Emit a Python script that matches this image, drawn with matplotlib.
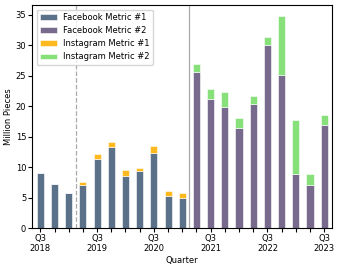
import numpy as np
import matplotlib.pyplot as plt

quarters = ["Q3\n2018", "", "", "", "Q3\n2019", "", "", "", "Q3\n2020", "", "", "",
            "Q3\n2021", "", "", "", "Q3\n2022", "", "", "", "Q3\n2023"]

fb1 = [9.0, 7.2, 5.8, 7.0, 11.4, 13.3, 8.5, 9.4, 12.4, 5.3, 5.0,
       0, 0, 0, 0, 0, 0, 0, 0, 0, 0]
ig1 = [0, 0, 0, 0.5, 0.8, 0.8, 1.1, 0.5, 1.0, 0.8, 0.8,
       0, 0, 0, 0, 0, 0, 0, 0, 0, 0]
fb2 = [0, 0, 0, 0, 0, 0, 0, 0, 0, 0, 0,
       25.6, 21.2, 19.8, 16.5, 20.4, 30.1, 25.1, 8.9, 7.1, 16.9]
ig2 = [0, 0, 0, 0, 0, 0, 0, 0, 0, 0, 0,
       1.4, 1.6, 2.6, 1.6, 1.3, 1.3, 9.7, 8.8, 1.8, 1.6]

c_fb1 = "#5b7189"
c_fb2 = "#786a8c"
c_ig1 = "#fdb91e"
c_ig2 = "#87e07a"

plt.rcParams['font.size'] = 6

fig, ax = plt.subplots(figsize=(3.41, 2.69), dpi=100)
x = np.arange(len(quarters))
w = 0.5
fb1 = np.array(fb1)
fb2 = np.array(fb2)

ax.bar(x, fb1, w, color=c_fb1, edgecolor="white", linewidth=0.4, label="Facebook Metric #1")
ax.bar(x, fb2, w, color=c_fb2, edgecolor="white", linewidth=0.4, label="Facebook Metric #2")
ax.bar(x, ig1, w, bottom=fb1, color=c_ig1, edgecolor="white", linewidth=0.4, label="Instagram Metric #1")
ax.bar(x, ig2, w, bottom=fb2, color=c_ig2, edgecolor="white", linewidth=0.4, label="Instagram Metric #2")

ax.axvline(2.5, color="#aaaaaa", linestyle="--", linewidth=0.9)
ax.axvline(10.5, color="#aaaaaa", linestyle="-", linewidth=0.9)

ax.set_xticks(x)
ax.set_xticklabels(quarters, linespacing=1.15)
ax.set_xlim(-0.56, 20.56)
ax.tick_params(axis="x", length=3, pad=1)
ax.tick_params(axis="y", length=3, pad=1.5)
ax.set_ylabel("Million Pieces")
ax.set_xlabel("Quarter")
ax.yaxis.set_label_coords(-0.065, 0.5)
ax.xaxis.set_label_coords(0.5, -0.125)
ax.legend(loc="upper left")

fig.subplots_adjust(left=0.095, right=0.974, top=0.98, bottom=0.152)
fig.savefig("out.png")
